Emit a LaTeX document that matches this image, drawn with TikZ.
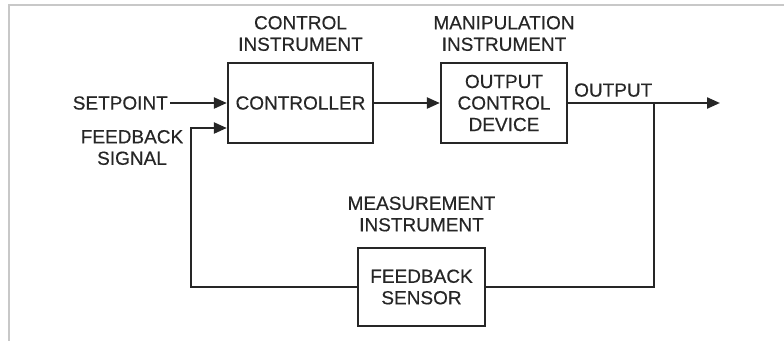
\documentclass[tikz,border=0pt]{standalone}
\usepackage{fontspec}
\setmainfont{Liberation Sans}[FakeBold=0.4]
\usetikzlibrary{arrows.meta}
\definecolor{ink}{HTML}{262626}
\definecolor{framegray}{HTML}{C8C8C8}
\begin{document}
\begin{tikzpicture}[x=1pt,y=-1pt,
  txt/.style={font=\fontsize{19}{21.5}\selectfont, text=ink, align=center, inner sep=0pt},
  block/.style={txt, draw=ink, line width=2.3pt},
  wire/.style={draw=ink, line width=2.3pt},
  arr/.style={wire, -{Triangle[length=13pt,width=11pt]}},
  frameline/.style={draw=framegray, line width=2pt}]
\useasboundingbox (0,0) rectangle (784,341);
% partial frame along the top and left edges
\draw[frameline] (784,5) -- (9,5) -- (9,341);

% blocks
\node[block, minimum width=145pt, minimum height=80pt] (ctrl) at (300.5,103) {CONTROLLER};
\node[block, minimum width=126pt, minimum height=80pt] (ocd) at (504,103) {OUTPUT\\CONTROL\\DEVICE};
\node[block, minimum width=127pt, minimum height=78pt] (sensor) at (421.5,287) {FEEDBACK\\SENSOR};

% captions
\node[txt] (ctrlcap) at (300.5,33.5) {CONTROL\\INSTRUMENT};
\node[txt] (ocdcap) at (504,33.5) {MANIPULATION\\INSTRUMENT};
\node[txt] (sensorcap) at (421.5,214) {MEASUREMENT\\INSTRUMENT};

% signal labels
\node[txt, anchor=east] (setpoint) at (168,103) {SETPOINT};
\node[txt] (fbsig) at (132,147.5) {FEEDBACK\\SIGNAL};
\node[txt, anchor=south west] (outlbl) at (574,97) {OUTPUT};

% junction points
\coordinate (tap) at (654,103);
\coordinate (out) at (720,103);
\coordinate (fbcorner) at (191,128);
\coordinate (fbin) at (ctrl.west |- fbcorner);

% forward path
\draw[arr] (setpoint.east) ++(2,0) -- (ctrl.west |- setpoint.east);
\draw[arr] (ctrl.east) -- (ocd.west);
\draw[arr] (ocd.east) -- (out);

% feedback path
\draw[wire] (tap) |- (sensor.east);
\draw[arr] (sensor.west) -| (fbcorner) -- (fbin);
\end{tikzpicture}
\end{document}
